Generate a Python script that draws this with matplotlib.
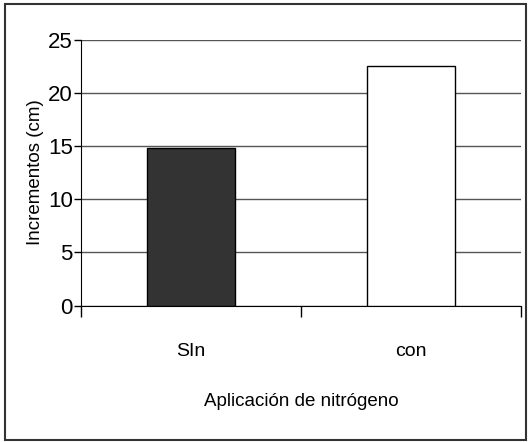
import matplotlib.pyplot as plt
from matplotlib.patches import Rectangle

categorias = ["SIn", "con"]
incrementos = [14.8, 22.5]
colores = ["#333333", "#ffffff"]
yticks = [0, 5, 10, 15, 20, 25]

plt.rcParams['font.family'] = ['Liberation Sans', 'DejaVu Sans']

fig = plt.figure(figsize=(5.3, 4.42), dpi=100, facecolor='white')
ax = fig.add_axes([81/530, 1-305.5/442, 440/530, 266/442])

x = list(range(len(categorias)))
ax.bar(x, incrementos, width=0.4, color=colores, edgecolor='black', linewidth=1, zorder=3)

ax.set_xlim(-0.5, 1.5)
ax.set_ylim(0, 25)
ax.set_yticks(yticks)
ax.set_yticklabels([str(v) for v in yticks], fontsize=16)
ax.set_xticks([-0.5, 0.5, 1.5])
ax.set_xticklabels([])
ax.set_xticks(x, minor=True)
ax.set_xticklabels(categorias, minor=True, fontsize=14)
ax.tick_params(axis='x', which='minor', length=0, pad=27)
ax.tick_params(axis='x', which='major', direction='out', length=8, width=1)
ax.tick_params(axis='y', direction='out', length=5, width=1, pad=1)

ax.yaxis.grid(True, color='#555555', linewidth=1, zorder=0)
ax.spines['top'].set_visible(False)
ax.spines['right'].set_visible(False)

ax.set_xlabel("Aplicación de nitrógeno", fontsize=13.5, labelpad=24)
ax.set_ylabel("Incrementos (cm)", fontsize=13.5, labelpad=3)

fig.patches.append(Rectangle((5/530, 2/442), 521/530, 436/442, transform=fig.transFigure,
                             fill=False, edgecolor='#333333', linewidth=1.5))

fig.savefig("out.png", dpi=100)
